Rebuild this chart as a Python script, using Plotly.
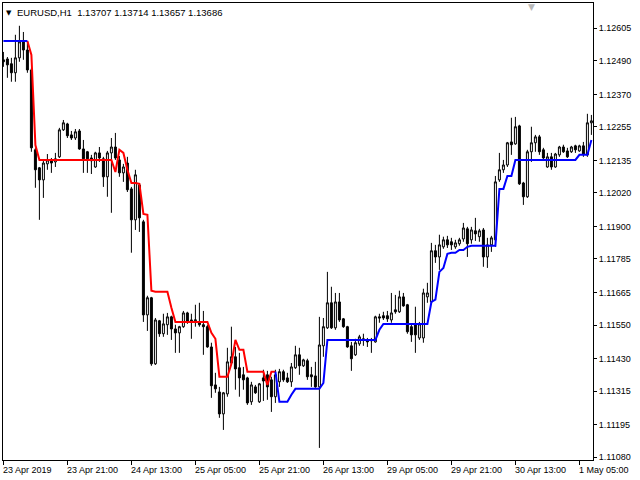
import plotly.graph_objects as go

# EURUSD H1, 23 Apr - 1 May 2019, one entry per bar (weekend gap removed)
opens = [
    1.12493, 1.12496, 1.12479, 1.12447, 1.12500, 1.12557, 1.12528, 1.12457, 1.12173, 1.12109,
    1.12066, 1.12123, 1.12134, 1.12130, 1.12148, 1.12244, 1.12265, 1.12226, 1.12215, 1.12240,
    1.12176, 1.12166, 1.12144, 1.12112, 1.12162, 1.12141, 1.12077, 1.12162, 1.12183, 1.12137,
    1.12091, 1.12126, 1.12034, 1.11924, 1.12048, 1.11917, 1.11586, 1.11647, 1.11412, 1.11565,
    1.11519, 1.11551, 1.11579, 1.11536, 1.11522, 1.11544, 1.11593, 1.11568, 1.11565, 1.11561,
    1.11551, 1.11544, 1.11472, 1.11337, 1.11312, 1.11234, 1.11305, 1.11415, 1.11437, 1.11398,
    1.11373, 1.11362, 1.11277, 1.11330, 1.11277, 1.11362, 1.11373, 1.11355, 1.11295, 1.11348,
    1.11384, 1.11362, 1.11348, 1.11398, 1.11444, 1.11405, 1.11423, 1.11373, 1.11369, 1.11330,
    1.11476, 1.11540, 1.11629, 1.11540, 1.11632, 1.11572, 1.11544, 1.11476, 1.11444, 1.11483,
    1.11501, 1.11497, 1.11494, 1.11490, 1.11579, 1.11583, 1.11583, 1.11568, 1.11604, 1.11597,
    1.11650, 1.11622, 1.11544, 1.11554, 1.11504, 1.11504, 1.11650, 1.11632, 1.11814, 1.11792,
    1.11828, 1.11853, 1.11846, 1.11828, 1.11839, 1.11856, 1.11892, 1.11853, 1.11885, 1.11864,
    1.11888, 1.11792, 1.11835, 1.11853, 1.12066, 1.12102, 1.12119, 1.12201, 1.12194, 1.12258,
    1.12055, 1.12006, 1.12166, 1.12198, 1.12219, 1.12173, 1.12112, 1.12148, 1.12112, 1.12155,
    1.12183, 1.12169, 1.12166, 1.12187, 1.12169, 1.12187, 1.12155, 1.12269,
]
highs = [
    1.12521, 1.12503, 1.12500, 1.12582, 1.12614, 1.12592, 1.12557, 1.12464, 1.12180, 1.12112,
    1.12137, 1.12158, 1.12144, 1.12162, 1.12251, 1.12279, 1.12269, 1.12240, 1.12247, 1.12247,
    1.12208, 1.12169, 1.12155, 1.12166, 1.12183, 1.12148, 1.12169, 1.12215, 1.12233, 1.12151,
    1.12123, 1.12148, 1.12041, 1.12102, 1.12055, 1.11924, 1.11654, 1.11650, 1.11575, 1.11568,
    1.11590, 1.11593, 1.11583, 1.11551, 1.11547, 1.11600, 1.11597, 1.11590, 1.11622, 1.11629,
    1.11600, 1.11551, 1.11487, 1.11380, 1.11330, 1.11312, 1.11469, 1.11544, 1.11472, 1.11451,
    1.11401, 1.11366, 1.11348, 1.11337, 1.11344, 1.11391, 1.11387, 1.11366, 1.11391, 1.11394,
    1.11391, 1.11380, 1.11415, 1.11476, 1.11469, 1.11430, 1.11430, 1.11401, 1.11419, 1.11579,
    1.11575, 1.11739, 1.11686, 1.11664, 1.11664, 1.11575, 1.11547, 1.11490, 1.11501, 1.11515,
    1.11519, 1.11504, 1.11504, 1.11583, 1.11590, 1.11597, 1.11600, 1.11664, 1.11657, 1.11672,
    1.11664, 1.11625, 1.11551, 1.11615, 1.11561, 1.11679, 1.11700, 1.11842, 1.11835, 1.11871,
    1.11864, 1.11867, 1.11860, 1.11853, 1.11860, 1.11913, 1.11899, 1.11899, 1.11931, 1.11892,
    1.11895, 1.11860, 1.11867, 1.12080, 1.12162, 1.12137, 1.12201, 1.12287, 1.12290, 1.12262,
    1.12059, 1.12173, 1.12255, 1.12226, 1.12226, 1.12180, 1.12162, 1.12162, 1.12162, 1.12187,
    1.12191, 1.12180, 1.12187, 1.12191, 1.12191, 1.12201, 1.12301, 1.12297,
]
lows = [
    1.12468, 1.12429, 1.12415, 1.12415, 1.12486, 1.12493, 1.12447, 1.12166, 1.12038, 1.11924,
    1.12002, 1.12102, 1.12091, 1.12112, 1.12144, 1.12240, 1.12215, 1.12208, 1.12208, 1.12173,
    1.12091, 1.12091, 1.12087, 1.12109, 1.12130, 1.12041, 1.12006, 1.11949, 1.12137, 1.12077,
    1.12059, 1.12023, 1.11807, 1.11888, 1.11881, 1.11561, 1.11529, 1.11405, 1.11408, 1.11508,
    1.11508, 1.11515, 1.11497, 1.11451, 1.11451, 1.11540, 1.11554, 1.11501, 1.11544, 1.11544,
    1.11444, 1.11469, 1.11291, 1.11309, 1.11220, 1.11177, 1.11295, 1.11412, 1.11320, 1.11295,
    1.11320, 1.11266, 1.11266, 1.11305, 1.11273, 1.11280, 1.11284, 1.11241, 1.11273, 1.11330,
    1.11348, 1.11344, 1.11330, 1.11394, 1.11373, 1.11401, 1.11355, 1.11330, 1.11327, 1.11113,
    1.11437, 1.11536, 1.11536, 1.11533, 1.11561, 1.11540, 1.11469, 1.11387, 1.11440, 1.11476,
    1.11476, 1.11472, 1.11451, 1.11487, 1.11558, 1.11568, 1.11561, 1.11558, 1.11590, 1.11593,
    1.11615, 1.11519, 1.11490, 1.11451, 1.11497, 1.11487, 1.11629, 1.11629, 1.11771, 1.11746,
    1.11821, 1.11824, 1.11817, 1.11821, 1.11832, 1.11846, 1.11792, 1.11839, 1.11849, 1.11846,
    1.11757, 1.11753, 1.11810, 1.11828, 1.12059, 1.12091, 1.12112, 1.12155, 1.12191, 1.12048,
    1.11977, 1.12002, 1.12130, 1.12166, 1.12155, 1.12137, 1.12109, 1.12102, 1.12109, 1.12148,
    1.12162, 1.12144, 1.12162, 1.12162, 1.12166, 1.12148, 1.12148, 1.12226,
]
closes = [
    1.12486, 1.12475, 1.12447, 1.12500, 1.12557, 1.12528, 1.12457, 1.12180, 1.12102, 1.12066,
    1.12126, 1.12137, 1.12126, 1.12141, 1.12244, 1.12269, 1.12223, 1.12215, 1.12237, 1.12176,
    1.12141, 1.12141, 1.12134, 1.12162, 1.12144, 1.12077, 1.12162, 1.12183, 1.12144, 1.12091,
    1.12112, 1.12031, 1.11924, 1.12084, 1.11931, 1.11586, 1.11647, 1.11412, 1.11568, 1.11519,
    1.11554, 1.11579, 1.11536, 1.11522, 1.11544, 1.11593, 1.11561, 1.11565, 1.11568, 1.11551,
    1.11544, 1.11472, 1.11334, 1.11323, 1.11234, 1.11309, 1.11419, 1.11437, 1.11394, 1.11362,
    1.11355, 1.11273, 1.11337, 1.11309, 1.11341, 1.11351, 1.11330, 1.11295, 1.11373, 1.11384,
    1.11355, 1.11348, 1.11401, 1.11444, 1.11405, 1.11426, 1.11366, 1.11366, 1.11330, 1.11479,
    1.11544, 1.11629, 1.11540, 1.11632, 1.11568, 1.11544, 1.11472, 1.11430, 1.11487, 1.11508,
    1.11497, 1.11490, 1.11497, 1.11579, 1.11575, 1.11575, 1.11572, 1.11593, 1.11597, 1.11650,
    1.11618, 1.11526, 1.11515, 1.11515, 1.11554, 1.11664, 1.11664, 1.11814, 1.11792, 1.11835,
    1.11853, 1.11835, 1.11835, 1.11842, 1.11853, 1.11895, 1.11839, 1.11888, 1.11874, 1.11885,
    1.11792, 1.11835, 1.11860, 1.12059, 1.12102, 1.12119, 1.12198, 1.12191, 1.12255, 1.12052,
    1.12006, 1.12166, 1.12198, 1.12219, 1.12166, 1.12144, 1.12148, 1.12112, 1.12158, 1.12183,
    1.12166, 1.12148, 1.12183, 1.12173, 1.12187, 1.12158, 1.12269, 1.12276,
]

# trailing stop indicator (one value per bar) and where it is red / blue
stop = [
    1.12560, 1.12560, 1.12560, 1.12560, 1.12560, 1.12560, 1.12560, 1.12510, 1.12190, 1.12137,
    1.12137, 1.12137, 1.12137, 1.12137, 1.12137, 1.12137, 1.12137, 1.12137, 1.12137, 1.12137,
    1.12137, 1.12137, 1.12137, 1.12137, 1.12137, 1.12137, 1.12137, 1.12137, 1.12094, 1.12173,
    1.12162, 1.12102, 1.12055, 1.12055, 1.12052, 1.11945, 1.11942, 1.11672, 1.11668, 1.11668,
    1.11668, 1.11668, 1.11611, 1.11561, 1.11561, 1.11561, 1.11561, 1.11561, 1.11561, 1.11561,
    1.11561, 1.11561, 1.11522, 1.11501, 1.11366, 1.11366, 1.11366, 1.11412, 1.11497, 1.11462,
    1.11462, 1.11384, 1.11384, 1.11384, 1.11384, 1.11384, 1.11337, 1.11384, 1.11384, 1.11277,
    1.11277, 1.11277, 1.11302, 1.11323, 1.11323, 1.11323, 1.11323, 1.11323, 1.11323, 1.11323,
    1.11344, 1.11497, 1.11497, 1.11497, 1.11497, 1.11497, 1.11497, 1.11497, 1.11497, 1.11497,
    1.11497, 1.11497, 1.11497, 1.11497, 1.11533, 1.11554, 1.11554, 1.11554, 1.11554, 1.11554,
    1.11554, 1.11554, 1.11554, 1.11554, 1.11554, 1.11554, 1.11554, 1.11632, 1.11640, 1.11739,
    1.11753, 1.11803, 1.11807, 1.11807, 1.11817, 1.11817, 1.11828, 1.11832, 1.11832, 1.11832,
    1.11832, 1.11832, 1.11832, 1.11832, 1.12034, 1.12034, 1.12080, 1.12080, 1.12137, 1.12137,
    1.12137, 1.12137, 1.12137, 1.12137, 1.12137, 1.12137, 1.12137, 1.12137, 1.12137, 1.12137,
    1.12137, 1.12137, 1.12137, 1.12137, 1.12155, 1.12155, 1.12155, 1.12208,
]
up_spans = [(0, 6), (68, 147)]
down_spans = [(6, 68)]

tick_bars = [0, 16, 32, 48, 64, 80, 96, 112, 128, 144]
tick_text = ["23 Apr 2019", "23 Apr 21:00", "24 Apr 13:00", "25 Apr 05:00", "25 Apr 21:00",
             "26 Apr 13:00", "29 Apr 05:00", "29 Apr 21:00", "30 Apr 13:00", "1 May 05:00"]
price_ticks = [1.12605, 1.12490, 1.12370, 1.12255, 1.12135, 1.12020, 1.11900,
               1.11785, 1.11665, 1.11550, 1.11430, 1.11315, 1.11195, 1.11080]
header = "EURUSD,H1  1.13707 1.13714 1.13657 1.13686"

bars = list(range(len(opens)))
FONT = "Liberation Sans, Arial, sans-serif"

fig = go.Figure()
fig.add_trace(go.Candlestick(
    x=bars, open=opens, high=highs, low=lows, close=closes,
    increasing=dict(line=dict(color="black", width=1), fillcolor="white"),
    decreasing=dict(line=dict(color="black", width=1), fillcolor="black"),
    whiskerwidth=0, hoverinfo="skip",
))


def add_stop(spans, color):
    for a, b in spans:
        fig.add_trace(go.Scatter(x=bars[a:b + 1], y=stop[a:b + 1], mode="lines",
                                 line=dict(color=color, width=2), hoverinfo="skip"))


add_stop(down_spans, "#ff0000")
add_stop(up_spans, "#0000ff")

# MT4 style labels: start at the tick, not centred on it
for b, t in zip(tick_bars, tick_text):
    fig.add_annotation(x=b, xref="x", y=0, yref="paper", text=t, showarrow=False,
                       xanchor="left", yanchor="top", xshift=-2, yshift=-3,
                       font=dict(family=FONT, size=9, color="black"))

fig.add_annotation(x=0.0, xref="paper", y=1, yref="paper", text="▼", showarrow=False,
                   xanchor="left", yanchor="top", xshift=1, yshift=-4,
                   font=dict(family="DejaVu Sans", size=7, color="black"))
fig.add_annotation(x=0.0, xref="paper", y=1, yref="paper", text=header, showarrow=False,
                   xanchor="left", yanchor="top", xshift=12, yshift=-2,
                   font=dict(family=FONT, size=9.5, color="black"))
fig.add_annotation(x=0.8966, xref="paper", y=1, yref="paper", text="▼", showarrow=False,
                   xanchor="center", yanchor="top", yshift=3,
                   font=dict(family="DejaVu Sans", size=9, color="#b8b8b8"))

fig.update_layout(
    width=640, height=480,
    margin=dict(l=3, r=47, t=3, b=20),
    paper_bgcolor="white", plot_bgcolor="white",
    showlegend=False, hovermode=False,
    font=dict(family=FONT, size=9, color="black"),
    xaxis=dict(range=[-0.1, 147.4], showgrid=False, zeroline=False,
               showline=True, mirror=True, linecolor="black", linewidth=1,
               tickvals=tick_bars, showticklabels=False,
               ticks="outside", ticklen=4, tickcolor="black",
               rangeslider=dict(visible=False)),
    yaxis=dict(side="right", range=[1.11070, 1.12695], showgrid=False, zeroline=False,
               showline=True, mirror=True, linecolor="black", linewidth=1,
               tickvals=price_ticks, ticktext=[f"{p:.5f}" for p in price_ticks],
               ticks="outside", ticklen=3, tickcolor="black",
               tickfont=dict(family=FONT, size=9, color="black")),
)

# the default page has an 8px body margin; drop it so the chart sits at 0,0
fig.write_html("out.html", config={"displayModeBar": False},
               post_script="document.body.style.margin='0';")
